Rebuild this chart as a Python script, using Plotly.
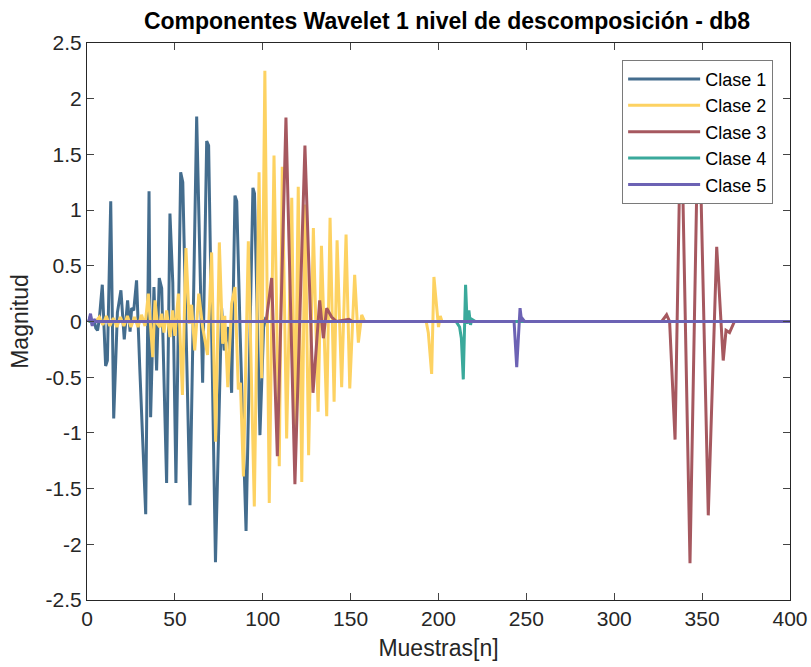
import plotly.graph_objects as go

# ---------------- data ----------------
clase1_n = [1, 2, 3, 4, 5, 6, 7, 8.7, 10.6, 11.6, 13.5, 15.2, 17.3, 19.3, 21.2, 23.1, 24.5,
            25.4, 26.6, 28.2, 30, 33.4, 35.3, 36.2, 38.1, 39.6, 41.1, 42.5, 45.3, 47.2, 48.8,
            50.6, 53.3, 54.5, 58.6, 62.4, 65.8, 68.1, 69.2, 73.1, 76.6, 78.1, 80.4, 82.3,
            84.2, 85.2, 87.2, 90.5, 94.4, 95.3, 98.4, 100.5, 101.5, 103, 400]
clase1_v = [0, 0.05, -0.03, 0.02, -0.06, -0.08, 0.02, 0.33, -0.40, -0.35, 1.08, -0.87, 0.08,
            0.28, -0.16, 0.19, -0.09, 0.12, 0.10, 0.37, -0.41, -1.73, 1.17, -0.86, 0.31, -0.44,
            0.39, 0.30, -1.45, 0.97, 0.35, -1.45, 1.34, 1.25, -1.65, 1.84, -0.55, 1.62, 1.58,
            -2.16, 0.12, -0.26, -0.05, -0.64, 1.13, 1.08, -0.14, -1.88, 1.20, 1.15, -1.02,
            -0.05, 0.02, 0, 0]

clase2_n = [1, 5, 7, 9, 11, 13, 15, 17, 19, 21, 23, 25, 27, 29, 31, 33, 34.9, 37.4, 38.7,
            40, 41.5, 42.5, 43.8, 45.3, 47.2, 48.7, 50, 52, 54.3, 56.3, 58.2, 59.5, 61.3,
            63.6, 65.8, 68.6, 70.9, 73.2, 75.3, 77.2, 78.4, 80.1, 82.3, 84.2, 86.1, 87.3,
            89, 91.8, 95.2, 97.9, 99.4, 101.2, 103.7, 106.4, 109.4, 111.1, 113.6, 116.5,
            118.3, 120.2, 122.2, 124.1, 126.1, 128.8, 131.5, 133.4, 136.4, 138.3, 140.6,
            142.3, 144.9, 147.4, 149.5, 152.3, 154.4, 156.3, 158, 193, 194.2, 196.1, 197.4,
            199, 200, 201, 202, 400]
clase2_v = [0, 0, 0.04, -0.03, 0.05, -0.04, 0.03, -0.05, 0.04, -0.04, 0.05, -0.05, 0.04,
            -0.05, 0.06, -0.04, 0.25, -0.32, 0.19, -0.02, -0.05, 0.07, -0.10, 0.10, -0.14,
            0.10, -0.13, 0.25, -0.66, 0.66, -0.02, 0.15, -0.26, 0.25, -0.05, -0.30, 0.62,
            -1.08, 0.71, -0.20, 0.05, -0.59, 0.16, 0.31, -0.61, -0.55, -1.39, 0.72, -1.66,
            1.34, -0.51, 2.25, -1.63, 1.49, -1.30, 1.39, -1.05, 1.11, -1.15, 1.21, -1.44,
            1.05, -1.20, 0.84, -0.81, 0.68, -0.85, 0.93, -0.72, 0.73, -0.59, 0.78, -0.60,
            0.42, -0.19, 0.06, 0, 0, -0.10, -0.47, 0.40, 0.13, -0.05, 0.05, 0, 0]

clase3_n = [1, 99.5, 102, 105.1, 108.3, 113.2, 118.3, 124, 128.6, 132.4, 134.5, 136.4, 139.2,
            142, 149, 151, 327, 329.8, 331.5, 334.6, 338, 343.1, 348, 353.5, 358.3, 362,
            363.6, 365.6, 368.4, 400]
clase3_v = [0, 0, 0.01, 0.39, -1.21, 1.83, -1.46, 1.58, -0.64, 0.19, -0.15, 0.12, 0.04, 0,
            0.02, 0, 0, 0.06, 0.0, -1.06, 2.0, -2.17, 2.1, -1.74, 0.67, -0.35, -0.08, -0.10,
            0.0, 0]

clase4_n = [1, 210, 212, 213, 214.1, 215.4, 216.3, 217.3, 218.2, 219, 221, 400]
clase4_v = [0, 0, -0.05, -0.15, -0.52, 0.33, -0.02, 0.10, -0.03, 0.02, 0, 0]

clase5_n = [1, 2, 3, 4, 5, 243, 244.5, 246.4, 247.3, 248, 249, 400]
clase5_v = [0, 0.07, -0.04, 0.02, 0, 0, -0.41, 0.12, 0.0, 0.02, 0, 0]

series_names = ["Clase 1", "Clase 2", "Clase 3", "Clase 4", "Clase 5"]
series_colors = ["#446d8e", "#fdd262", "#a6585f", "#3aa99b", "#6c62b4"]

y_ticks = [-2.5, -2, -1.5, -1, -0.5, 0, 0.5, 1, 1.5, 2, 2.5]
y_tick_text = ["-2.5", "-2", "-1.5", "-1", "-0.5", "0", "0.5", "1", "1.5", "2", "2.5"]
x_ticks = [0, 50, 100, 150, 200, 250, 300, 350, 400]

# ---------------- figure ----------------
xs = [clase1_n, clase2_n, clase3_n, clase4_n, clase5_n]
ys = [clase1_v, clase2_v, clase3_v, clase4_v, clase5_v]

fig = go.Figure()
for name, color, x, y in zip(series_names, series_colors, xs, ys):
    fig.add_trace(go.Scatter(x=x, y=y, mode="lines", name=name,
                             line=dict(color=color, width=3)))

font_family = "Liberation Sans, Arial, Helvetica, sans-serif"
axis_color = "#262626"

fig.update_layout(
    width=811, height=667,
    margin=dict(l=87, r=21, t=43, b=67, autoexpand=False),
    paper_bgcolor="white", plot_bgcolor="white",
    font=dict(family=font_family, size=21, color=axis_color),
    title=dict(text="<b>Componentes Wavelet 1 nivel de descomposición - db8</b>",
               x=447 / 811, xanchor="center", y=1 - 21 / 667, yanchor="middle",
               font=dict(size=23, color="black")),
    showlegend=True,
    legend=dict(x=0.976, xanchor="right", y=0.97, yanchor="top",
                bgcolor="white", bordercolor="#7a7a7a", borderwidth=1,
                font=dict(size=18, color="black"), tracegroupgap=0, itemwidth=72),
)
fig.update_xaxes(range=[0, 400], tickvals=x_ticks, ticks="inside", ticklen=7,
                 showline=True, linecolor=axis_color, linewidth=1, mirror="ticks",
                 showgrid=False, zeroline=False, automargin=False,
                 title=dict(text="Muestras[n]", font=dict(size=23), standoff=10))
fig.update_yaxes(range=[-2.5, 2.5], tickvals=y_ticks, ticktext=y_tick_text,
                 ticks="inside", ticklen=7,
                 showline=True, linecolor=axis_color, linewidth=1, mirror="ticks",
                 showgrid=False, zeroline=False, automargin=False,
                 title=dict(text="Magnitud", font=dict(size=23), standoff=10))

fig.write_html("out.html")
